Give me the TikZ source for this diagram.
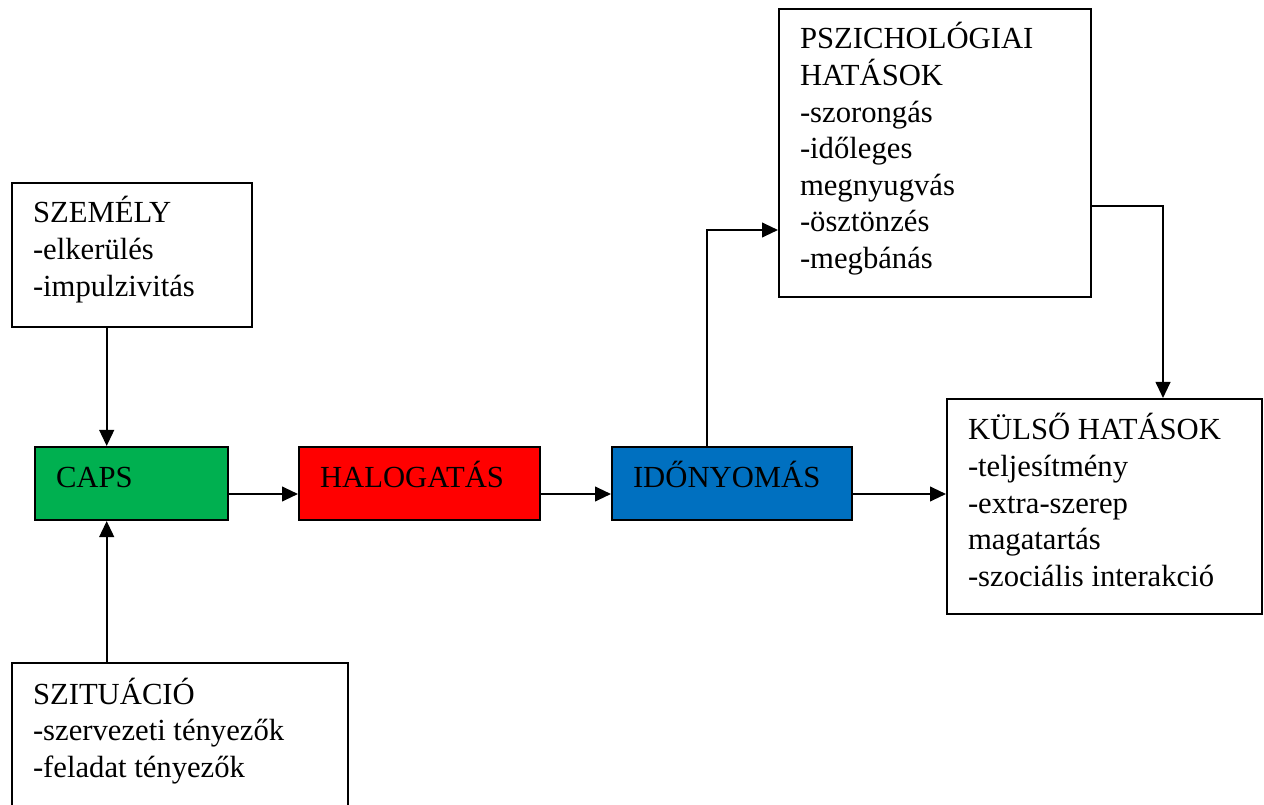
\documentclass[tikz,border=0pt]{standalone}
\usepackage{fontspec}
\setmainfont{Liberation Serif}
\usetikzlibrary{arrows.meta}
\definecolor{capsgreen}{RGB}{0,176,80}
\definecolor{halored}{RGB}{255,0,0}
\definecolor{idoblue}{RGB}{0,112,192}
\tikzset{%
  box/.style = { draw=black, line width=1.5pt, rectangle, anchor=north west, align=flush left,
                 inner xsep=15.75pt, inner ysep=0pt, font=\fontsize{23}{27.45}\selectfont },
  colbox/.style = { box, fill=#1, text height=30.75pt, text depth=24pt },
  arr/.style = { line width=1.5pt, -{Triangle[length=12pt,width=11pt]} }
}
\begin{document}
\begin{tikzpicture}[x=0.75pt,y=-0.75pt]

  \useasboundingbox (0,0) rectangle (1264,805);
  \clip (0,0) rectangle (1264,805);

  % Left side
  \node[box, text width=148.5pt, text height=30pt, text depth=78pt] (szemely) at (11,182)
    {SZEMÉLY\\-elkerülés\\-impulzivitás};
  \node[box, text width=220.5pt, text height=30.75pt, text depth=120pt] (szituacio) at (11,662)
    {SZITUÁCIÓ\\-szervezeti tényezők\\-feladat tényezők};

  % Middle row
  \node[colbox=capsgreen, text width=113.25pt] (caps) at (34,446) {CAPS};
  \node[colbox=halored, text width=149.25pt] (halo) at (298,446) {HALOGATÁS};
  \node[colbox=idoblue, text width=148.5pt] (ido) at (611,446) {IDŐNYOMÁS};

  % Right side
  \node[box, text width=202.5pt, text height=30pt, text depth=186pt] (pszich) at (778,8)
    {PSZICHOLÓGIAI\\HATÁSOK\\-szorongás\\-időleges\\megnyugvás\\-ösztönzés\\-megbánás};
  \node[box, text width=204.75pt, text height=30.75pt, text depth=130.5pt] (kulso) at (946,398)
    {KÜLSŐ~HATÁSOK\\-teljesítmény\\-extra-szerep\\magatartás\\-szociális interakció};

  % Arrows
  \draw[arr] (szemely.south -| 106.7,0) -- (caps.north -| 106.7,0);
  \draw[arr] (szituacio.north -| 106.7,0) -- (caps.south -| 106.7,0);
  \draw[arr] (caps.east |- 0,494) -- (halo.west |- 0,494);
  \draw[arr] (halo.east |- 0,494) -- (ido.west |- 0,494);
  \draw[arr] (ido.east |- 0,494) -- (kulso.west |- 0,494);
  \draw[arr] (ido.north -| 706.7,0) |- (pszich.west |- 0,230);
  \draw[arr] (pszich.east |- 0,205.7) -| (kulso.north -| 1163,0);

\end{tikzpicture}
\end{document}
